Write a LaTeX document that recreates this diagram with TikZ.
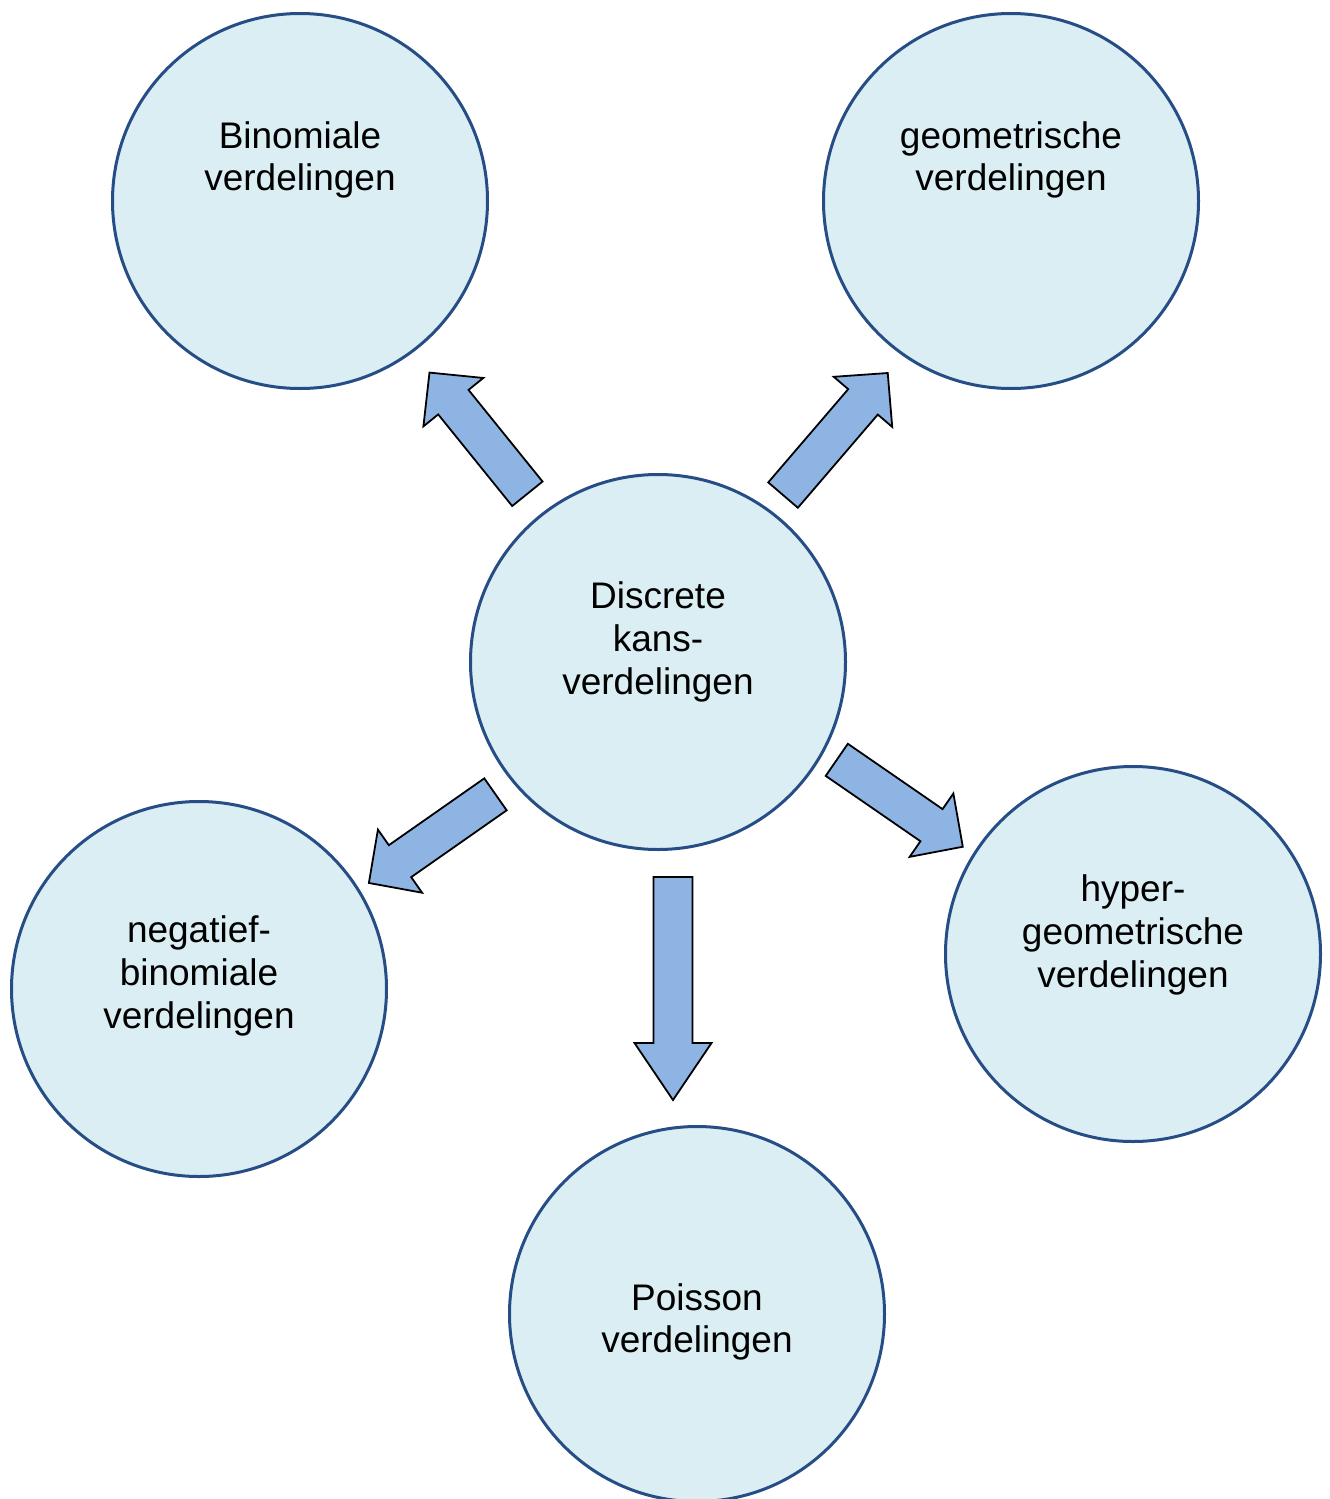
\documentclass[tikz,border=0pt]{standalone}
\usepackage{fontspec}
\setmainfont{Liberation Sans}
\usetikzlibrary{positioning, calc}

\definecolor{circfill}{HTML}{DAEEF3}
\definecolor{circline}{HTML}{264D85}
\definecolor{arrowfill}{HTML}{8EB4E3}

% block arrow: tail, tip, head length
\newcommand{\blockarrow}[3]{%
  \coordinate (hb) at ($(#2)!#3!(#1)$);
  \filldraw[blockarrow] ($(#1)!9.75pt!90:(#2)$) -- ($(hb)!9.75pt!90:(#2)$)
    -- ($(hb)!19.25pt!90:(#2)$) -- (#2) -- ($(hb)!19.25pt!-90:(#2)$)
    -- ($(hb)!9.75pt!-90:(#2)$) -- ($(#1)!9.75pt!-90:(#2)$) -- cycle;}

\begin{document}
\begin{tikzpicture}[x=0.5pt, y=-0.5pt, on grid,
    circ/.style={circle, draw=circline, fill=circfill, line width=1.5pt, minimum size=187.5pt, inner sep=0pt},
    txt/.style={align=center, inner sep=0pt, font=\fontsize{18.5pt}{21.3pt}\selectfont},
    blockarrow/.style={draw=black, fill=arrowfill, line width=0.9pt, line join=miter}]
    \useasboundingbox (0,0) rectangle (1329,1499);

    \node[circ] (kans) at (658,662) {};
    \node[circ, above left=230.5pt and 179pt of kans] (binom) {};
    \node[circ, above right=230.5pt and 176.5pt of kans] (geom) {};
    \node[circ, below left=163.5pt and 229.5pt of kans] (negbin) {};
    \node[circ, below right=146pt and 237.5pt of kans] (hyper) {};
    \node[circ, below right=326pt and 19.5pt of kans] (poisson) {};

    \node[txt, above=10pt of kans] (kanstxt) {Discrete\\kans-\\verdelingen};
    \node[txt, above=20.5pt of binom] (binomtxt) {Binomiale\\verdelingen};
    \node[txt, above=20.5pt of geom] (geomtxt) {geometrische\\verdelingen};
    \node[txt, above=6.5pt of negbin] (negbintxt) {negatief-\\binomiale\\verdelingen};
    \node[txt, above=9.5pt of hyper] (hypertxt) {hyper-\\geometrische\\verdelingen};
    \node[txt, below=4pt of poisson] (poissontxt) {Poisson\\verdelingen};

    \coordinate (a1) at ($(kans.center)!106.5pt!(binom.center)$);
    \coordinate (b1) at ($(binom.center)!108pt!(kans.center)+(-3,1)$);
    \coordinate (a2) at ($(kans.center)!104.5pt!(geom.center)+(-2,-1)$);
    \coordinate (b2) at ($(geom.center)!105.5pt!(kans.center)+(5,4.5)$);
    \coordinate (a3) at ($(kans.center)!105pt!(negbin.center)+(8.5,10.5)$);
    \coordinate (b3) at ($(negbin.center)!100pt!(kans.center)+(7,10)$);
    \coordinate (a4) at ($(kans.center)!102pt!(hyper.center)+(5,-9)$);
    \coordinate (b4) at ($(hyper.center)!100.5pt!(kans.center)+(1,-2)$);
    \coordinate[below right=107.5pt and 7.5pt of kans.center] (a5);
    \coordinate[above left=107pt and 12pt of poisson.center] (b5);

    \blockarrow{a1}{b1}{19pt}
    \blockarrow{a2}{b2}{19pt}
    \blockarrow{a3}{b3}{19pt}
    \blockarrow{a4}{b4}{19pt}
    \blockarrow{a5}{b5}{28.5pt}
\end{tikzpicture}
\end{document}
